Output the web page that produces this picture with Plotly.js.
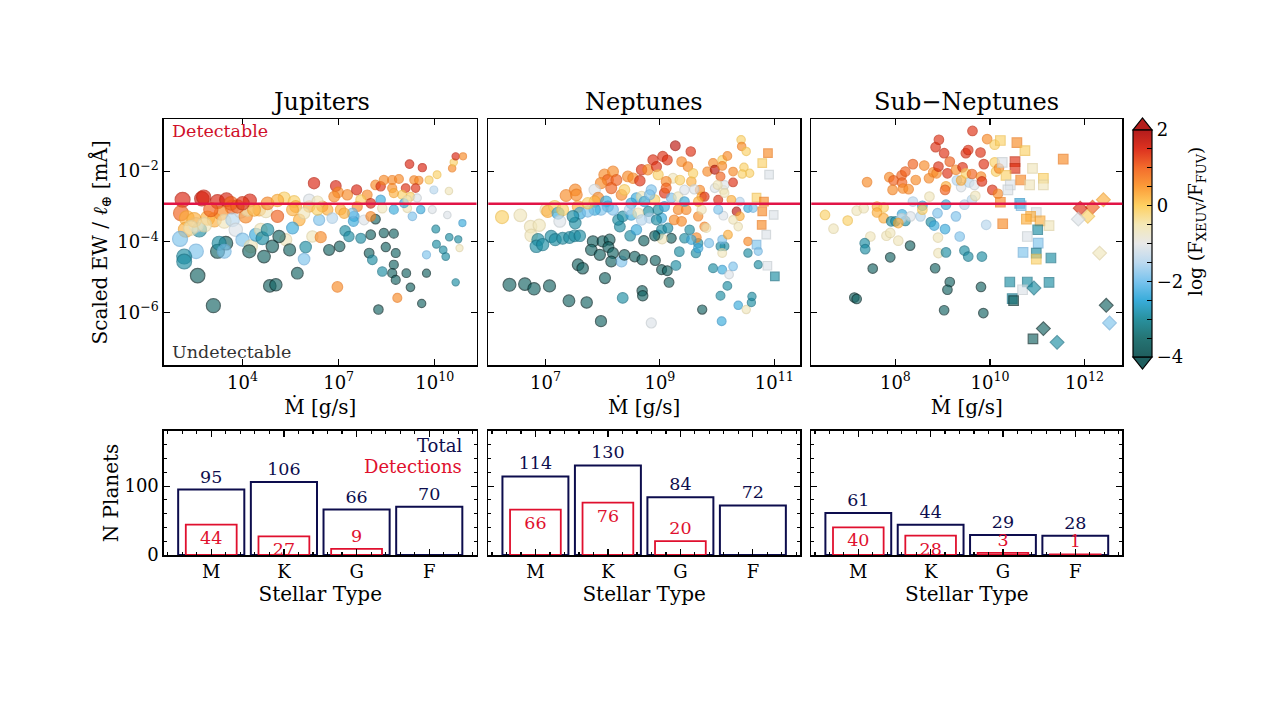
<!DOCTYPE html>
<html>
<head>
<meta charset="utf-8">
<script src="https://cdn.plot.ly/plotly-3.0.1.min.js"></script>
<style>html,body{margin:0;padding:0;background:#fff}#chart{width:1279px;height:719px}</style>
</head>
<body>
<div id="chart"></div>
<script>
// ---------------- DATA (log10 values) ----------------
// Jupiters: log10 Mdot [g/s], log10 scaled EW [mÅ], log(F_XEUV/F_FUV)
const jupLogMdot = [2.13,2.73,2.79,3.22,3.50,3.67,4.23,2.08,2.26,2.23,2.05,2.65,2.55,2.91,3.12,3.33,3.43,3.69,3.95,4.10,3.79,4.00,4.26,4.42,4.57,4.62,4.78,4.52,4.73,5.09,5.30,5.61,5.66,5.77,5.56,5.35,5.14,4.93,4.67,4.21,3.22,3.48,3.27,3.43,2.55,2.18,2.18,2.60,3.09,4.85,5.04,5.71,5.47,5.97,5.92,6.18,6.44,6.39,6.23,6.08,6.49,4.78,5.09,6.08,6.34,6.65,6.80,6.70,6.91,6.98,7.27,7.06,7.20,7.32,7.03,7.48,7.46,7.56,7.69,7.79,7.89,8.00,8.15,8.00,8.00,7.95,8.05,8.15,8.31,8.41,8.67,8.88,8.67,8.31,8.36,8.41,8.72,8.47,8.72,8.67,8.78,8.78,8.36,6.96,8.24,8.83,9.11,9.24,9.59,9.21,9.61,9.09,9.35,9.50,9.40,9.24,8.98,9.45,9.82,10.07,9.97,10.44,9.56,9.30,9.14,8.72,9.04,9.92,10.39,9.74,9.74,10.03,10.05,10.26,10.34,10.45,10.73,10.86,10.77,10.65,10.54,10.59,10.65,10.88,7.58,7.43,7.17,6.86,7.69,6.34,5.92,5.56,4.16,4.36,3.01,2.49,2.39,2.81,3.64,3.84,4.00,8.72,9.14];
const jupLogEW = [-2.81,-2.78,-2.74,-2.86,-2.81,-3.02,-2.83,-3.19,-3.33,-3.66,-3.92,-3.66,-3.52,-3.33,-3.38,-3.19,-3.42,-3.38,-3.14,-3.28,-3.66,-3.94,-4.13,-3.80,-3.66,-3.90,-3.66,-3.09,-3.14,-3.28,-2.76,-2.86,-3.00,-3.38,-3.61,-3.94,-3.85,-4.13,-4.42,-4.27,-4.27,-4.04,-4.04,-4.27,-4.27,-4.42,-4.56,-4.96,-5.81,-5.25,-5.22,-4.89,-4.23,-4.15,-4.49,-3.85,-3.87,-3.38,-2.34,-3.00,-3.00,-2.91,-2.83,-2.81,-2.86,-3.09,-3.33,-4.23,-2.42,-2.60,-2.67,-3.09,-3.69,-3.85,-4.13,-3.28,-3.42,-2.53,-3.90,-3.38,-2.67,-3.80,-3.36,-3.28,-2.91,-4.32,-4.51,-2.39,-2.43,-2.25,-2.25,-2.22,-2.48,-2.81,-3.05,-3.75,-3.77,-4.15,-4.65,-4.89,-4.32,-5.08,-4.84,-5.28,-5.92,-5.59,-4.89,-5.29,-5.75,-1.80,-1.90,-2.48,-2.25,-2.26,-2.48,-2.72,-2.67,-2.76,-2.25,-2.10,-2.53,-2.56,-3.09,-3.28,-3.05,-3.09,-2.91,-3.09,-3.24,-4.89,-4.37,-3.64,-4.07,-4.23,-4.42,-3.87,-3.93,-3.47,-4.18,-5.15,-1.92,-1.75,-1.58,-1.58,-3.00,-3.19,-3.19,-2.72,-2.81,-3.09,-3.19,-3.09,-3.09,-3.09,-3.09,-3.38,-3.61,-3.52,-2.91,-3.00,-2.91,-2.62,-2.81];
const jupFlux = [1.5,1.6,1.5,1.5,1.5,1.0,1.5,1.0,0.25,0.25,-1.9,-2.9,-1.1,0.25,0.25,0.6,-0.6,-1.5,-1.1,0.6,-1.1,-1.9,-0.6,-2.4,-0.6,-2.9,-2.9,0.25,-0.6,1.0,-0.1,-0.1,0.25,0.25,-2.4,-0.6,-3.6,-3.6,-3.6,-3.6,-3.6,-3.6,-2.9,-1.9,-1.9,-2.9,-2.9,-3.6,-3.6,-3.6,-3.6,-3.6,-3.6,-2.9,-1.9,-0.6,0.6,-1.9,1.5,0.25,0.6,0.6,0.25,-1.1,-0.6,0.25,-1.5,-3.6,1.5,0.6,0.6,0.25,-2.9,-2.9,-3.6,-2.4,-2.4,1.5,-2.9,-1.1,0.6,-3.6,-3.6,0.6,1.5,-3.6,-2.9,0.6,1.4,0.6,0.6,0.6,0.6,-2.4,-0.6,-3.6,-3.6,-3.6,-3.6,-3.6,-3.6,-3.6,-2.9,0.6,-3.6,0.6,-3.6,-3.6,-3.6,1.5,1.5,1.4,0.6,0.6,1.4,-0.1,-0.1,-1.1,-0.1,-0.1,-1.5,-0.6,-2.4,-1.9,-0.6,-2.4,-2.4,-1.1,-1.1,-3.6,-1.9,-2.9,-2.9,-2.9,-2.9,-2.9,-2.9,-2.4,-0.6,-2.9,0.6,-0.1,1.5,0.6,0.6,-1.9,0.25,0.6,-0.1,-0.1,-0.6,0.25,-0.6,0.25,1.0,0.25,-0.6,-0.6,1.0,1.0,1.4,0.25,-0.6];

// Neptunes (circles)
const nepLogMdot = [6.24,6.56,6.74,6.89,6.75,7.01,7.04,7.16,7.22,7.30,7.36,7.52,7.54,7.57,7.60,7.25,7.52,7.48,6.87,6.84,6.95,7.10,7.17,7.30,7.42,7.51,7.60,7.83,7.80,7.95,8.00,8.12,8.10,8.18,8.15,8.33,8.38,8.56,8.69,8.72,8.92,9.03,9.13,9.16,7.57,7.65,8.04,6.37,6.64,6.80,7.07,7.41,7.72,7.97,8.35,8.69,8.70,8.85,9.74,10.08,10.06,10.18,10.37,10.51,10.60,10.61,10.72,9.93,10.09,10.21,10.28,10.13,10.06,10.09,10.09,9.86,9.67,9.63,9.67,9.64,9.34,9.28,9.43,9.52,9.55,9.20,8.97,9.03,9.14,9.04,8.91,8.48,8.59,8.30,8.27,8.35,8.50,8.80,8.82,9.03,9.25,9.38,9.32,9.46,9.67,9.78,9.81,9.73,9.70,9.73,9.78,10.02,10.11,10.13,10.34,10.40,10.54,10.63,10.40,10.11,10.28,10.37,10.19,10.54,10.54,10.72,8.03,8.09,8.15,8.18,8.24,7.97,7.86,7.92,7.86,8.06,8.09,8.18,7.97,7.86,7.74,7.74,8.33,8.38,8.44,8.53,8.65,8.68,8.79,8.88,8.94,8.97,9.05,9.13,9.27,9.38,9.54,9.49,9.23,9.35,8.85,8.91,9.08,9.11,9.11,9.20,9.32,9.43,9.55,9.58,9.60,9.67,9.43,8.59,8.68,8.73,8.82,8.50,8.47,8.62,8.68,8.97,9.08,8.94,9.83,9.93,9.96,10.09,10.09,10.06,10.18,10.28,10.28,10.42,10.43,10.51,10.47,10.57,10.44,9.96,10.01,10.13,10.25,10.02];
const nepLogEW = [-3.30,-3.25,-3.57,-3.53,-3.82,-3.09,-3.14,-3.00,-3.19,-3.09,-2.69,-2.53,-2.67,-3.00,-3.19,-3.42,-3.47,-3.28,-3.94,-4.13,-4.08,-3.85,-3.94,-3.90,-3.88,-3.83,-3.83,-3.99,-4.23,-4.37,-3.99,-3.94,-4.15,-4.32,-4.56,-4.56,-4.37,-4.42,-4.51,-3.97,-4.53,-4.79,-4.82,-5.15,-4.65,-4.75,-5.03,-5.22,-5.20,-5.33,-5.25,-5.67,-5.72,-6.25,-5.59,-5.39,-5.53,-6.30,-5.92,-6.25,-5.53,-5.25,-5.80,-5.92,-5.72,-5.55,-4.65,-4.75,-4.79,-4.93,-4.70,-4.13,-4.13,-4.32,-3.94,-4.04,-4.04,-4.32,-4.18,-3.88,-4.28,-4.67,-3.90,-3.66,-3.94,-3.90,-3.81,-3.66,-3.61,-3.92,-3.83,-3.83,-3.66,-3.57,-3.38,-3.28,-3.24,-3.14,-3.33,-3.33,-3.38,-3.42,-3.09,-3.09,-3.28,-3.57,-3.61,-3.09,-2.53,-2.72,-2.72,-2.81,-2.53,-2.39,-3.14,-3.28,-3.05,-3.05,-2.86,-3.26,-3.38,-3.57,-3.80,-3.99,-4.32,-4.27,-2.10,-2.25,-2.48,-2.01,-2.25,-2.34,-2.53,-2.76,-2.86,-2.86,-3.00,-3.09,-3.09,-3.09,-3.14,-2.91,-2.67,-2.53,-2.15,-2.20,-2.27,-1.96,-1.96,-1.68,-1.87,-2.10,-1.58,-1.68,-1.28,-1.73,-1.44,-1.87,-2.20,-2.25,-2.53,-2.81,-2.62,-2.29,-2.48,-2.76,-2.72,-2.53,-2.29,-2.06,-2.51,-2.86,-2.86,-2.76,-2.72,-2.86,-2.67,-2.91,-3.09,-3.19,-3.38,-3.09,-3.00,-3.38,-2.01,-1.77,-1.96,-1.68,-1.85,-2.15,-1.57,-2.01,-2.32,-1.11,-1.30,-1.44,-1.89,-2.06,-2.08,-2.48,-2.39,-2.62,-2.81,-3.09];
const nepFlux = [-0.1,-0.6,-0.6,-0.6,-0.6,-0.6,0.25,-0.1,-2.4,-0.1,0.6,0.6,0.6,0.25,-2.4,-1.1,-2.9,-2.9,-2.9,-2.9,-2.9,-2.9,-2.9,-2.9,-2.9,-2.9,-2.9,-3.6,-3.6,-3.6,-3.6,-3.6,-3.6,-3.6,-3.6,-1.9,-3.6,-3.6,-3.6,-3.6,-3.6,-3.6,-3.6,-3.6,-3.6,-3.6,-3.6,-3.6,-3.6,-3.6,-3.6,-3.6,-3.6,-3.6,-2.9,-3.6,-3.6,-1.1,-3.6,-2.4,-2.9,-2.9,-2.4,-0.6,-2.9,-2.9,-2.9,-2.9,-2.4,-1.1,-1.9,-2.9,-2.9,-0.6,-1.9,-1.9,-2.9,-2.9,-2.4,0.6,-2.9,-2.9,-2.9,-2.9,-2.4,-3.6,-2.9,-2.9,-2.9,-0.6,-3.6,-2.9,-2.4,-2.9,-2.9,-2.9,-2.4,-2.9,-1.5,-2.4,0.6,0.6,0.6,0.6,0.6,0.6,-0.6,-0.6,0.6,0.25,1.4,1.4,-0.6,-1.1,1.8,0.25,-2.4,-1.9,-1.5,-1.1,-0.6,-0.6,0.25,0.6,-2.9,-1.9,0.6,1.0,1.0,0.6,1.0,0.6,-1.1,0.6,0.25,-2.4,-2.4,-1.9,-1.9,-2.4,-1.9,-0.1,0.6,-0.1,0.6,0.6,1.4,1.4,0.6,1.4,1.4,-0.1,1.4,1.4,1.8,0.6,1.4,0.6,-0.6,-0.1,-1.9,-0.1,1.4,0.6,1.0,-1.9,-0.6,-1.1,0.25,-0.1,-1.1,0.25,-2.4,-2.4,-0.6,-2.4,-1.9,-2.4,-1.5,-0.6,-1.5,-2.9,-2.4,-2.9,0.6,0.6,1.8,-0.1,0.6,1.0,0.6,0.6,1.4,-0.1,0.6,-0.1,-0.1,-0.1,-0.1,-1.1,-0.6,-0.6,0.25,-1.9];
// Neptunes (squares)
const nepSqLogMdot = [10.89,10.79,10.91,10.69,10.82,10.79,10.99,10.78,10.86,10.69,10.88,11.01];
const nepSqLogEW = [-1.49,-1.77,-2.10,-2.75,-2.86,-3.14,-3.24,-3.52,-3.80,-4.08,-4.68,-4.98];
const nepSqFlux = [0.6,-0.1,-1.1,-0.1,0.6,0.6,-1.1,0.6,-1.1,-1.9,-1.1,-2.9];

// Sub-Neptunes (circles)
const subLogMdot = [6.51,6.69,6.99,7.18,7.33,7.40,7.61,7.75,7.61,7.75,7.47,7.81,7.89,8.06,7.35,7.36,7.52,7.89,8.31,7.13,7.18,7.91,8.00,8.21,8.14,8.13,8.06,8.32,8.37,8.53,8.57,8.57,8.72,8.89,8.75,8.82,9.05,8.90,8.91,9.07,8.84,9.15,9.10,9.03,9.28,9.36,9.46,9.54,9.83,9.81,9.86,9.92,9.07,9.46,9.62,9.69,9.39,9.30,9.56,9.67,7.87,7.96,7.94,8.13,8.14,8.21,8.16,8.28,8.37,8.43,8.61,8.71,8.80,8.87,8.91,8.85,8.92,9.03,9.10,9.15,9.07,9.05,9.28,9.39,9.42,9.49,9.54,9.49,9.62,9.63,9.80,9.81,9.83,9.87,10.05,10.17,9.94,10.10,10.10,10.13,10.19];
const subLogEW = [-3.24,-3.63,-3.40,-3.12,-3.05,-2.31,-3.00,-3.03,-3.17,-3.33,-3.85,-3.83,-3.75,-3.97,-4.04,-4.21,-4.76,-4.44,-4.11,-5.58,-5.62,-3.42,-3.42,-3.41,-3.22,-3.33,-3.47,-3.28,-2.86,-3.28,-2.98,-3.09,-2.72,-3.19,-3.44,-3.54,-3.64,-3.88,-4.32,-4.30,-4.75,-5.14,-5.36,-5.94,-3.28,-3.85,-4.25,-4.42,-4.42,-5.28,-6.02,-3.52,-2.95,-2.95,-2.81,-2.70,-2.45,-2.26,-2.32,-2.39,-2.17,-2.26,-2.53,-2.12,-2.32,-2.01,-2.49,-2.51,-1.80,-2.25,-1.84,-2.20,-2.03,-2.06,-1.87,-1.32,-1.11,-1.49,-2.06,-1.73,-2.43,-2.53,-1.96,-2.26,-1.89,-1.49,-1.40,-2.06,-2.08,-0.86,-1.47,-2.15,-2.29,-1.80,-2.53,-2.64,-1.09,-1.25,-1.75,-2.01,-1.92];
const subFlux = [-0.1,-0.6,-0.1,-0.6,-0.6,0.6,0.25,-0.1,0.25,0.25,-0.6,-0.6,-0.6,-0.6,-2.9,-2.9,-3.6,-3.6,-3.6,-3.6,-3.6,-2.9,-2.9,-2.9,-2.4,-1.1,0.25,-1.1,-1.5,-1.5,-2.4,-0.1,-0.6,-1.9,-2.9,-2.4,-2.4,-0.6,-0.6,-2.9,-3.6,-3.6,-3.6,-3.6,-1.9,-1.9,-2.9,-2.9,-2.9,-3.6,-3.6,-1.5,-2.4,-1.5,-1.5,-0.6,-1.1,-1.5,-1.5,-1.1,0.6,1.0,0.6,1.0,1.0,1.0,0.6,0.6,1.0,0.6,0.6,0.6,0.6,0.6,1.4,1.4,1.4,1.4,1.4,1.0,0.25,1.0,0.6,0.25,1.4,1.4,1.4,-0.1,1.0,1.4,1.4,0.6,1.4,1.4,1.4,0.6,0.6,-0.1,-0.1,-0.1,0.6];
// Sub-Neptunes (squares)
const subSqLogMdot = [10.22,10.57,10.74,10.26,10.53,10.53,10.34,10.43,10.38,10.65,10.90,10.84,11.13,11.13,11.55,10.22,10.63,10.66,10.98,10.86,10.77,11.06,11.25,10.27,11.01,10.79,11.02,10.70,10.98,10.98,11.29,10.42,10.79,11.25,10.69,10.47,10.50,10.91];
const subSqLogEW = [-1.13,-1.19,-1.42,-1.75,-1.73,-1.92,-2.12,-2.39,-2.53,-2.25,-1.92,-2.39,-2.20,-2.39,-1.66,-2.88,-2.91,-2.98,-3.17,-3.28,-3.36,-3.41,-3.54,-3.49,-3.66,-3.85,-4.04,-4.30,-4.32,-4.49,-4.46,-5.14,-5.14,-5.15,-5.36,-5.61,-5.67,-6.75];
const subSqFlux = [-0.1,0.6,-0.1,-1.1,1.4,1.4,-0.1,-1.1,-1.1,0.6,-0.6,-0.6,-0.1,-0.6,0.6,0.6,-2.4,-1.9,-1.1,0.25,0.25,0.25,-0.6,0.6,-2.9,-1.1,-1.9,-1.9,-2.9,-0.1,-2.9,-2.9,-2.9,-2.9,-1.1,-2.9,-3.6,-3.6];
// Sub-Neptunes (diamonds)
const subDiLogMdot = [12.40,12.17,11.91,12.07,11.87,12.32,10.93,11.13,11.42,12.46,12.53];
const subDiLogEW = [-2.81,-3.02,-3.05,-3.28,-3.36,-4.32,-5.31,-6.46,-6.85,-5.80,-6.30];
const subDiFlux = [0.25,1.0,1.4,-0.1,-1.1,-0.6,-2.9,-3.6,-2.9,-3.6,-1.9];

const detectionThreshold = 1.2e-3;

// Bar panels
const stellarTypes = ['M','K','G','F'];
const jupTotal = [95,106,66,70];
const jupDetections = [44,27,9,0];
const nepTotal = [114,130,84,72];
const nepDetections = [66,76,20,0];
const subTotal = [61,44,29,28];
const subDetections = [40,28,3,1];

// ---------------- STYLE ----------------
const FONT = 'DejaVu Serif, serif';
const NAVY = '#0d0d4d';
const RED = '#e0102e';
const W = 1279, H = 719;
const px = v => v / W;
const py = v => (H - v) / H;

const A = 0.92;
const fillScale = [
  [0.000,`rgba(12,80,80,${A})`],[0.083,`rgba(18,104,104,${A})`],[0.167,`rgba(22,135,150,${A})`],
  [0.250,`rgba(40,165,215,${A})`],[0.333,`rgba(110,190,236,${A})`],[0.417,`rgba(182,214,238,${A})`],
  [0.500,`rgba(230,230,230,${A})`],[0.583,`rgba(243,230,176,${A})`],[0.667,`rgba(254,204,84,${A})`],
  [0.750,`rgba(251,148,40,${A})`],[0.833,`rgba(242,96,26,${A})`],[0.917,`rgba(218,32,12,${A})`],
  [1.000,`rgba(172,8,8,${A})`]];
const lineScale = [
  [0.000,'#041a19'],[0.083,'#082e2e'],[0.167,'#126a76'],[0.250,'#2a90c2'],[0.333,'#5ea6d6'],
  [0.417,'#a6c6de'],[0.500,'#cccccc'],[0.583,'#e2d29a'],[0.667,'#f0b838'],[0.750,'#ee8420'],
  [0.833,'#dc5414'],[0.917,'#bc1c0a'],[1.000,'#880606']];

const pow10 = a => a.map(v => Math.pow(10, v));

function scatter(lx, ly, c, xa, ya, symbol, sizeFn, showScale) {
  const t = {
    type: 'scatter', mode: 'markers', xaxis: xa, yaxis: ya,
    x: pow10(lx), y: pow10(ly), hoverinfo: 'skip',
    marker: {
      symbol: symbol, size: lx.map(sizeFn),
      color: c, colorscale: fillScale, cmin: -4, cmax: 2,
      line: {color: c, colorscale: lineScale, cmin: -4, cmax: 2, width: 1.2},
      showscale: !!showScale
    }
  };
  if (showScale) {
    t.marker.colorbar = {
      x: px(1133), xanchor: 'left', xpad: 0, ypad: 0,
      y: (py(130) + py(357)) / 2, yanchor: 'middle',
      thickness: 19, thicknessmode: 'pixels',
      len: py(130) - py(357), lenmode: 'fraction',
      outlinewidth: 1.2, outlinecolor: 'black',
      tickmode: 'array',
      tickvals: [-4,-3.5,-3,-2.5,-2,-1.5,-1,-0.5,0,0.5,1,1.5,2],
      ticktext: ['−4',' ',' ',' ','−2',' ',' ',' ','0',' ',' ',' ','2'],
      ticks: 'inside', ticklen: 5, tickcolor: 'black',
      tickfont: {family: FONT, size: 18, color: 'black'}
    };
  }
  return t;
}

const jupSize = v => Math.max(6.5, 15 - 0.9 * (v - 2));
const nepSize = v => Math.max(7, 13 - 1.1 * (v - 6.2));
const nepSqSize = v => 8.5;
const subSize = v => 9.5;

const traces = [
  scatter(jupLogMdot, jupLogEW, jupFlux, 'x', 'y', 'circle', jupSize, true),
  scatter(nepLogMdot, nepLogEW, nepFlux, 'x2', 'y2', 'circle', nepSize, false),
  scatter(nepSqLogMdot, nepSqLogEW, nepSqFlux, 'x2', 'y2', 'square', nepSqSize, false),
  scatter(subLogMdot, subLogEW, subFlux, 'x3', 'y3', 'circle', subSize, false),
  scatter(subSqLogMdot, subSqLogEW, subSqFlux, 'x3', 'y3', 'square', subSize, false),
  scatter(subDiLogMdot, subDiLogEW, subDiFlux, 'x3', 'y3', 'diamond', v => 10.5, false)
];

function bars(total, det, xa, ya) {
  const idx = stellarTypes.map((_, i) => i);
  return [
    {type: 'bar', x: idx, y: total, xaxis: xa, yaxis: ya, width: 0.91,
     marker: {color: 'rgba(255,255,255,0)', line: {color: NAVY, width: 2}},
     text: total.map(String), textposition: 'outside', textangle: 0, constraintext: 'none',
     cliponaxis: false, outsidetextfont: {family: FONT, size: 17.5, color: NAVY}, hoverinfo: 'skip'},
    {type: 'bar', x: idx, y: det, xaxis: xa, yaxis: ya, width: 0.7,
     marker: {color: 'rgba(255,255,255,0)', line: {color: RED, width: det.map(v => v > 0 ? 1.8 : 0)}},
     text: det.map(v => v > 0 ? String(v) : ' '),
     textposition: det.map(v => v >= 25 ? 'inside' : 'outside'),
     insidetextanchor: 'end', textangle: 0, constraintext: 'none', cliponaxis: false,
     insidetextfont: {family: FONT, size: 17.5, color: RED},
     outsidetextfont: {family: FONT, size: 17.5, color: RED}, hoverinfo: 'skip'}
  ];
}
traces.push(...bars(jupTotal, jupDetections, 'x4', 'y4'));
traces.push(...bars(nepTotal, nepDetections, 'x5', 'y5'));
traces.push(...bars(subTotal, subDetections, 'x6', 'y6'));

// ---------------- AXES ----------------
const colX = [[px(164), px(476.5)], [px(488.3), px(800)], [px(811.3), px(1122.3)]];
const topY = [py(365.3), py(119.3)];
const botY = [py(555), py(431)];

const frame = {showgrid: false, zeroline: false, showline: true, linecolor: 'black', linewidth: 1.6,
  mirror: 'allticks', ticks: 'inside', ticklen: 6, tickwidth: 1.2, tickcolor: 'black'};
const tickF = {family: FONT, size: 18, color: 'black'};
const titleF = {family: FONT, size: 20, color: 'black'};
const sup = e => '10<sup>' + String(e).replace('-', '−') + '</sup>';

function topX(domain, range, exps, anchor) {
  return Object.assign({}, frame, {domain, anchor, type: 'log', range,
    tickmode: 'array', tickvals: exps.map(e => Math.pow(10, e)), ticktext: exps.map(sup),
    tickfont: tickF, title: {text: 'Ṁ [g/s]', font: titleF, standoff: 8}});
}
function topYAx(anchor, labels) {
  const a = Object.assign({}, frame, {domain: topY, anchor, type: 'log', range: [-7.5, -0.53],
    tickmode: 'array', tickvals: [1e-6, 1e-4, 1e-2], ticktext: [-6, -4, -2].map(sup),
    showticklabels: labels, tickfont: tickF});
  if (labels) a.title = {text: 'Scaled EW / <i>ℓ</i><sub>⊕</sub> [mÅ]', font: titleF, standoff: 4};
  return a;
}
function botX(domain, anchor) {
  return Object.assign({}, frame, {domain, anchor, range: [-0.65, 3.65],
    tickmode: 'array', tickvals: [0, 1, 2, 3], ticktext: stellarTypes, tickfont: tickF,
    minor: {dtick: 0.2, tick0: 0, ticks: 'inside', ticklen: 3, tickcolor: 'black', showgrid: false},
    title: {text: 'Stellar Type', font: titleF, standoff: 2}});
}
function botYAx(anchor, labels) {
  const a = Object.assign({}, frame, {domain: botY, anchor, range: [0, 180],
    tickmode: 'array', tickvals: [0, 100], showticklabels: labels, tickfont: tickF,
    minor: {dtick: 20, tick0: 0, ticks: 'inside', ticklen: 3, tickcolor: 'black', showgrid: false}});
  if (labels) a.title = {text: 'N Planets', font: titleF, standoff: 0};
  return a;
}

const layout = {
  width: W, height: H, margin: {l: 0, r: 0, t: 0, b: 0},
  paper_bgcolor: 'white', plot_bgcolor: 'white', showlegend: false, hovermode: false,
  barmode: 'overlay', font: {family: FONT, color: 'black'},
  xaxis: topX(colX[0], [1.55, 11.3], [4, 7, 10], 'y'),
  xaxis2: topX(colX[1], [6.0, 11.45], [7, 9, 11], 'y2'),
  xaxis3: topX(colX[2], [6.22, 12.8], [8, 10, 12], 'y3'),
  yaxis: topYAx('x', true), yaxis2: topYAx('x2', false), yaxis3: topYAx('x3', false),
  xaxis4: botX(colX[0], 'y4'), xaxis5: botX(colX[1], 'y5'), xaxis6: botX(colX[2], 'y6'),
  yaxis4: botYAx('x4', true), yaxis5: botYAx('x5', false), yaxis6: botYAx('x6', false),
  shapes: [
    ...['x', 'x2', 'x3'].map((xa, i) => ({type: 'line', xref: xa + ' domain', yref: 'y' + (i ? i + 1 : ''),
      x0: 0, x1: 1, y0: detectionThreshold, y1: detectionThreshold, layer: 'above',
      line: {color: 'rgb(225,20,70)', width: 2.5}})),
    {type: 'path', xref: 'paper', yref: 'paper', fillcolor: 'rgb(180,30,28)', line: {color: 'black', width: 1.2},
     path: `M ${px(1133)},${py(130)} L ${px(1152)},${py(130)} L ${px(1142.5)},${py(118)} Z`},
    {type: 'path', xref: 'paper', yref: 'paper', fillcolor: 'rgb(30,94,94)', line: {color: 'black', width: 1.2},
     path: `M ${px(1133)},${py(357)} L ${px(1152)},${py(357)} L ${px(1142.5)},${py(369)} Z`}
  ],
  annotations: [
    {text: 'Jupiters', x: (colX[0][0] + colX[0][1]) / 2, y: py(102)},
    {text: 'Neptunes', x: (colX[1][0] + colX[1][1]) / 2, y: py(102)},
    {text: 'Sub−Neptunes', x: (colX[2][0] + colX[2][1]) / 2, y: py(102)}
  ].map(a => Object.assign(a, {xref: 'paper', yref: 'paper', showarrow: false, xanchor: 'center', yanchor: 'middle',
      font: {family: FONT, size: 24, color: 'black'}})).concat([
    {text: 'Detectable', x: px(170), y: py(131), xanchor: 'left', font: {family: FONT, size: 17.5, color: '#d0102a'}},
    {text: 'Undetectable', x: px(170), y: py(352), xanchor: 'left', font: {family: FONT, size: 17.5, color: '#333333'}},
    {text: 'Total', x: px(464), y: py(445), xanchor: 'right', font: {family: FONT, size: 18, color: NAVY}},
    {text: 'Detections', x: px(464), y: py(466), xanchor: 'right', font: {family: FONT, size: 18, color: RED}},
    {text: 'log (F<sub>XEUV</sub>/F<sub>FUV</sub>)', x: px(1197), y: py(222), xanchor: 'center', textangle: -90,
     font: {family: FONT, size: 18.5, color: 'black'}}
  ].map(a => Object.assign(a, {xref: 'paper', yref: 'paper', showarrow: false, yanchor: 'middle'})))
};

Plotly.newPlot('chart', traces, layout, {staticPlot: true, displayModeBar: false});
</script>
</body>
</html>
